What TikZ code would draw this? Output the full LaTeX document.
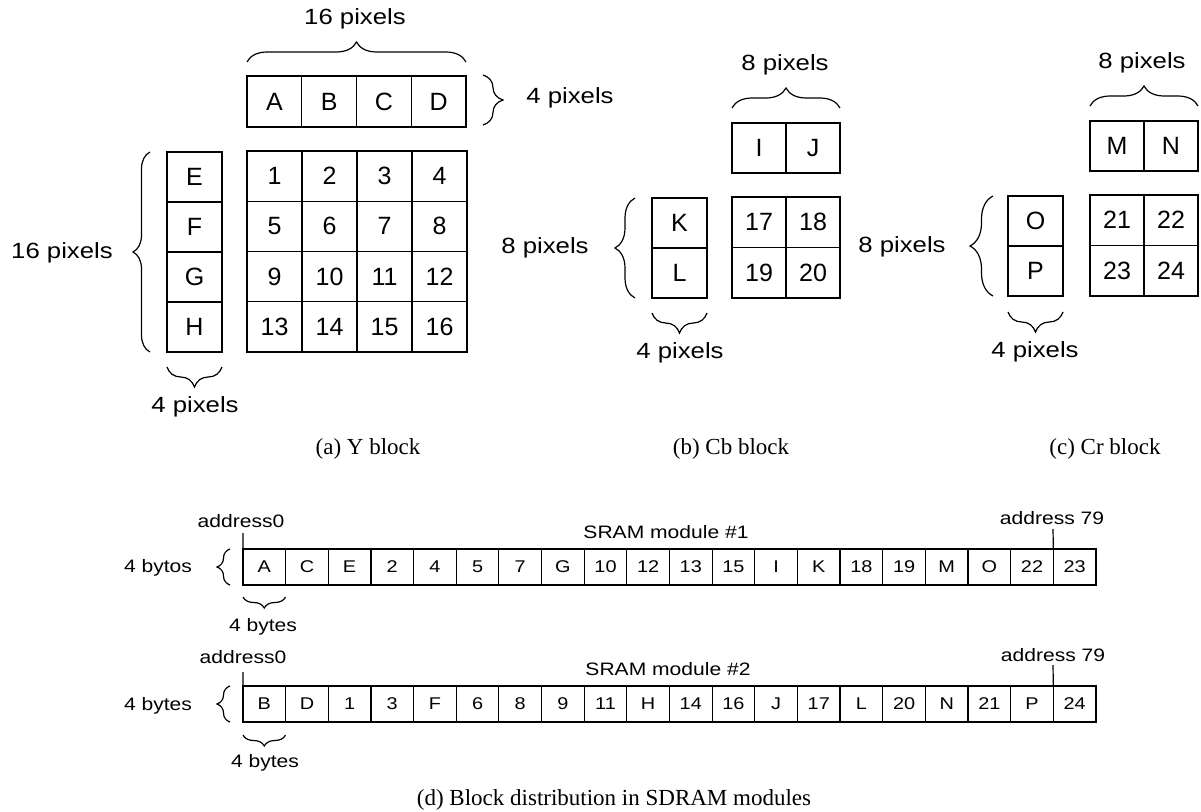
\documentclass[tikz,border=0pt]{standalone}
\usepackage{fontspec}
\usetikzlibrary{decorations.pathreplacing}
\newfontfamily\sff{Liberation Sans}[FakeStretch=1.17]
\newfontfamily\cellff{Liberation Sans}
\newfontfamily\serf{Liberation Serif}
\begin{document}
\begin{tikzpicture}[x=1pt,y=-1pt,
  ycell/.style={draw, line width=1.4pt, minimum width=55pt, minimum height=50pt, inner sep=0pt, outer sep=0pt, font=\cellff\fontsize{25}{25}\selectfont},
  scell/.style={draw, line width=1.2pt, minimum width=42.65pt, minimum height=36pt, inner sep=0pt, outer sep=0pt, font=\sff\fontsize{17}{17}\selectfont},
  biglab/.style={inner sep=0pt, font=\sff\fontsize{22}{22}\selectfont},
  smalllab/.style={inner sep=0pt, font=\sff\fontsize{18}{18}\selectfont},
  caplab/.style={inner sep=0pt, font=\serf\fontsize{23}{23}\selectfont},
  brc/.style={decorate, decoration={brace, amplitude=#1}, line width=1.2pt},
  tick/.style={line width=1.2pt}]
\useasboundingbox (0,0) rectangle (1201,811);

% ---------------- (a) Y block ----------------
\foreach \l [count=\i from 0] in {A,B,C,D}
  \node[ycell, minimum width=54.75pt, minimum height=51pt] (y\l) at (274.4+54.75*\i,101.5) {\l};
\foreach \r in {0,...,3}
  \foreach \c in {0,...,3} {
    \pgfmathtruncatemacro\n{\r*4+\c+1}
    \node[ycell, minimum height=50.25pt] (y\n) at (274.5+55*\c,176.1+50.25*\r) {\n};
  }
\foreach \l [count=\i from 0] in {E,F,G,H}
  \node[ycell] (y\l) at (194.5,177+50*\i) {\l};

\draw[brc=20] (247,62) -- (466,62);
\node[biglab] (lyt) at (355,19) {16 pixels};
\draw[brc=20] (483,75) -- (483,125);
\node[biglab] (lyr) at (570,98) {4 pixels};
\draw[brc=17] (150,352) -- (150,152);
\node[biglab] (lyl) at (62,253) {16 pixels};
\draw[brc=20] (222,367) -- (167,367);
\node[biglab] (lyb) at (195,407) {4 pixels};

% ---------------- (b) Cb block ----------------
\foreach \l [count=\i from 0] in {I,J}
  \node[ycell, minimum width=54pt] (b\l) at (759+54*\i,148) {\l};
\foreach \l [count=\i from 0] in {K,L}
  \node[ycell] (b\l) at (679.5,223+50*\i) {\l};
\node[ycell, minimum width=54pt, minimum height=50.5pt] (b17) at (759,222.25) {17};
\node[ycell, minimum width=54pt, minimum height=50.5pt] (b18) at (813,222.25) {18};
\node[ycell, minimum width=54pt, minimum height=50.5pt] (b19) at (759,272.75) {19};
\node[ycell, minimum width=54pt, minimum height=50.5pt] (b20) at (813,272.75) {20};

\draw[brc=20] (732,108) -- (840,108);
\node[biglab] (lbt) at (785,65) {8 pixels};
\draw[brc=20] (635,298) -- (635,198);
\node[biglab] (lbl) at (545,248) {8 pixels};
\draw[brc=20] (707,313) -- (652,313);
\node[biglab] (lbb) at (680,353) {4 pixels};

% ---------------- (c) Cr block ----------------
\foreach \l [count=\i from 0] in {M,N}
  \node[ycell, minimum width=54pt] (c\l) at (1117+54*\i,146) {\l};
\foreach \l [count=\i from 0] in {O,P}
  \node[ycell] (c\l) at (1035.5,221+50*\i) {\l};
\node[ycell, minimum width=54pt, minimum height=50.5pt] (c21) at (1117,220.25) {21};
\node[ycell, minimum width=54pt, minimum height=50.5pt] (c22) at (1171,220.25) {22};
\node[ycell, minimum width=54pt, minimum height=50.5pt] (c23) at (1117,270.75) {23};
\node[ycell, minimum width=54pt, minimum height=50.5pt] (c24) at (1171,270.75) {24};

\draw[brc=20] (1090,106) -- (1198,106);
\node[biglab] (lct) at (1142,63) {8 pixels};
\draw[brc=23] (993,296) -- (993,196);
\node[biglab] (lcl) at (902,247) {8 pixels};
\draw[brc=20] (1063,312) -- (1008,312);
\node[biglab] (lcb) at (1035,352) {4 pixels};

% captions
\node[caplab] (capa) at (368,449) {(a) Y block};
\node[caplab] (capb) at (731,449) {(b) Cb block};
\node[caplab] (capc) at (1105,449) {(c) Cr block};

% ---------------- (d) SRAM modules ----------------
\foreach \l [count=\i from 0] in {A,C,E,2,4,5,7,G,10,12,13,15,I,K,18,19,M,O,22,23}
  \node[scell] (r1c\i) at (264.3+42.65*\i,567) {\l};
\foreach \l [count=\i from 0] in {B,D,1,3,F,6,8,9,11,H,14,16,J,17,L,20,N,21,P,24}
  \node[scell] (r2c\i) at (264.3+42.65*\i,704) {\l};

\node[smalllab] (a01) at (241,521) {address0};
\coordinate (k1) at (243,533);
\draw[tick] (k1) -- (r1c0.north west);
\node[smalllab] (a791) at (1052,518) {address 79};
\coordinate (k2) at (1053,529);
\draw[tick] (k2) -- (r1c19.north west);
\node[smalllab] (sm1) at (666,532) {SRAM module \#1};
\draw[brc=13] (230,585) -- (230,549);
\node[smalllab] (lb1) at (158,568) {4 bytos};
\draw[brc=11] (285.5,597) -- (243,597);
\node[smalllab] (lbb1) at (263,627) {4 bytes};

\node[smalllab] (a02) at (243,657) {address0};
\coordinate (k3) at (243,672);
\draw[tick] (k3) -- (r2c0.north west);
\node[smalllab] (a792) at (1053,655) {address 79};
\coordinate (k4) at (1053,665);
\draw[tick] (k4) -- (r2c19.north west);
\node[smalllab] (sm2) at (668,669) {SRAM module \#2};
\draw[brc=13] (230,722) -- (230,686);
\node[smalllab] (lb2) at (158,706) {4 bytes};
\draw[brc=11] (285.5,735) -- (243,735);
\node[smalllab] (lbb2) at (265,763) {4 bytes};

\node[caplab] (capd) at (614,800) {(d) Block distribution in SDRAM modules};
\end{tikzpicture}
\end{document}
